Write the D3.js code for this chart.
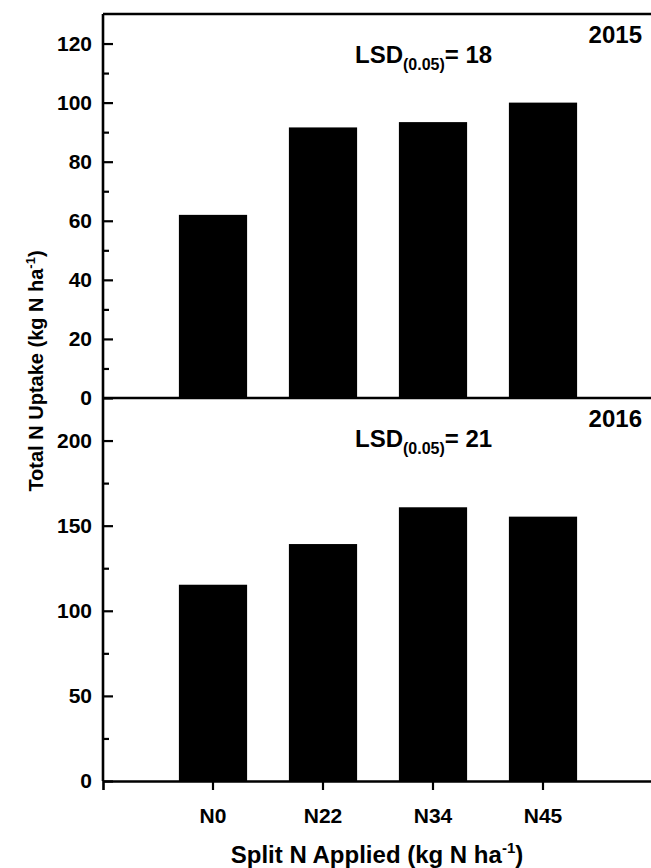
<!DOCTYPE html>
<html><head><meta charset="utf-8">
<script src="https://cdn.jsdelivr.net/npm/d3@7"></script>
<style>
html,body{margin:0;padding:0;background:#fff;}
svg{display:block;font-family:"Liberation Sans",Arial,Helvetica,sans-serif;font-weight:bold;}
</style></head>
<body><svg id="c" width="651" height="868"></svg>
<script>
const categories = ["N0", "N22", "N34", "N45"];
const values2015 = [62, 91.6, 93.4, 100];
const values2016 = [115.3, 139.2, 160.8, 155.3];
const ticks2015 = [0, 20, 40, 60, 80, 100, 120];
const minor2015 = [10, 30, 50, 70, 90, 110];
const ticks2016 = [0, 50, 100, 150, 200];
const minor2016 = [25, 75, 125, 175];
const panels = [
  {year: "2015", lsd: "18", values: values2015, ticks: ticks2015, minor: minor2015, max: 130, top: 14, bottom: 398},
  {year: "2016", lsd: "21", values: values2016, ticks: ticks2016, minor: minor2016, max: 225, top: 398, bottom: 781}
];
const L = 103, R = 653;
const svg = d3.select("#c");
const x = d3.scaleBand().domain(categories).range([L, R]).paddingInner(0.38).paddingOuter(0.69);

panels.forEach((p, pi) => {
  const y = d3.scaleLinear().domain([0, p.max]).range([p.bottom, p.top]);
  const g = svg.append("g");
  g.selectAll("rect.bar").data(p.values).join("rect")
    .attr("class", "bar")
    .attr("x", (d, i) => x(categories[i]))
    .attr("width", x.bandwidth())
    .attr("y", d => y(d))
    .attr("height", d => y(0) - y(d))
    .attr("fill", "#000");
  const ya = g.append("g").attr("transform", `translate(${L},0)`)
    .call(d3.axisLeft(y).tickValues(p.ticks).tickSize(-10).tickPadding(11).tickFormat(d3.format("d")));
  ya.select(".domain").remove();
  ya.selectAll("line").attr("stroke", "#000").attr("stroke-width", 2.2);
  ya.selectAll("text").attr("font-size", 21).attr("font-weight", "bold").attr("fill", "#000")
    .attr("font-family", "Liberation Sans, Arial, sans-serif");
  const ym = g.append("g").attr("transform", `translate(${L},0)`)
    .call(d3.axisLeft(y).tickValues(p.minor).tickSize(-6).tickFormat(""));
  ym.select(".domain").remove();
  ym.selectAll("line").attr("stroke", "#000").attr("stroke-width", 2.2);
  g.append("text").attr("x", 642).attr("y", p.top + 29).attr("text-anchor", "end")
    .attr("font-size", 24).attr("fill", "#000").text(p.year);
  const t = g.append("text").attr("x", 355).attr("y", p.top + 49).attr("font-size", 24).attr("fill", "#000");
  t.append("tspan").text("LSD");
  t.append("tspan").attr("font-size", 16).attr("dy", 7).text("(0.05)");
  t.append("tspan").attr("dy", -7).text("= " + p.lsd);
});

const frame = svg.append("g").attr("stroke", "#000").attr("stroke-width", 2.6).attr("fill", "none");
frame.append("line").attr("x1", L).attr("x2", L).attr("y1", 14).attr("y2", 781);
frame.append("line").attr("x1", L).attr("x2", R).attr("y1", 14).attr("y2", 14);
frame.append("line").attr("x1", L).attr("x2", R).attr("y1", 398).attr("y2", 398);
frame.append("line").attr("x1", R).attr("x2", R).attr("y1", 14).attr("y2", 781);

const xa = svg.append("g").attr("transform", "translate(0,781)")
  .call(d3.axisBottom(x).tickSize(9).tickPadding(18));
xa.select(".domain").attr("stroke-width", 2.6).attr("stroke", "#000");
xa.selectAll("line").attr("stroke", "#000").attr("stroke-width", 2.2);
xa.selectAll("text").attr("font-size", 21).attr("font-weight", "bold").attr("fill", "#000")
  .attr("font-family", "Liberation Sans, Arial, sans-serif");

const xt = svg.append("text").attr("x", 377).attr("y", 863).attr("text-anchor", "middle")
  .attr("font-size", 24).attr("fill", "#000");
xt.append("tspan").text("Split N Applied (kg N ha");
xt.append("tspan").attr("font-size", 15).attr("dy", -10).text("-1");
xt.append("tspan").attr("dy", 10).text(")");

const yt = svg.append("text").attr("transform", "translate(43,371) rotate(-90)").attr("text-anchor", "middle")
  .attr("font-size", 20).attr("fill", "#000");
yt.append("tspan").text("Total N Uptake (kg N ha");
yt.append("tspan").attr("font-size", 13).attr("dy", -8).text("-1");
yt.append("tspan").attr("dy", 8).text(")");
</script></body></html>
